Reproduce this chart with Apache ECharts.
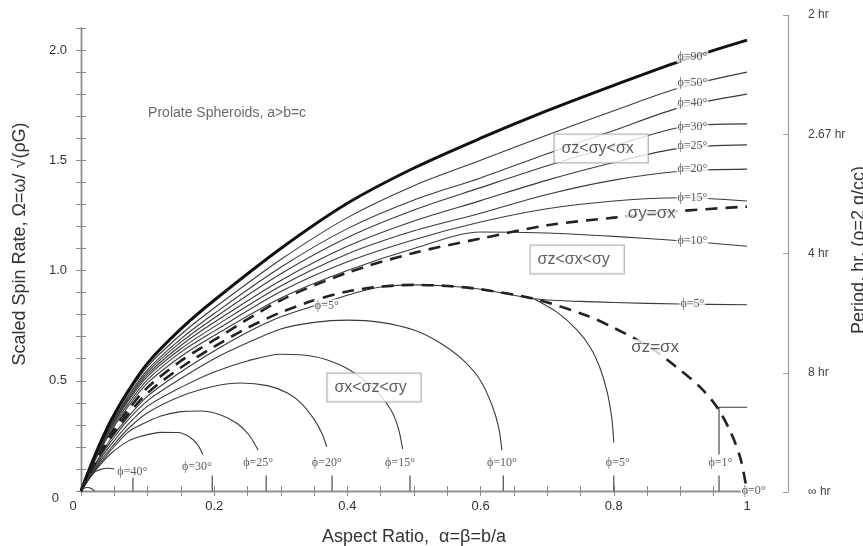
<!DOCTYPE html>
<html><head><meta charset="utf-8">
<script src="https://cdn.jsdelivr.net/npm/echarts/dist/echarts.min.js"></script>
<style>html,body{margin:0;padding:0;background:#fff;overflow:hidden}#c{width:863px;height:546px}</style>
</head><body><div id="c"></div>
<script>
// ---------- data ----------
const xGrid = [0, 0.01, 0.02, 0.03, 0.045, 0.07, 0.1, 0.15, 0.2, 0.3, 0.4, 0.5, 0.6, 0.7, 0.8, 0.9, 1.0];
const upperPhi90 = [0, 0.08, 0.155, 0.225, 0.32, 0.45, 0.58, 0.735, 0.865, 1.10, 1.305, 1.465, 1.60, 1.725, 1.84, 1.95, 2.045];
const upperPhi50 = [0, 0.078, 0.151, 0.219, 0.312, 0.438, 0.565, 0.71, 0.83, 1.05, 1.24, 1.385, 1.50, 1.615, 1.725, 1.83, 1.90];
const upperPhi40 = [0, 0.076, 0.147, 0.213, 0.303, 0.427, 0.55, 0.69, 0.805, 1.015, 1.19, 1.32, 1.42, 1.53, 1.635, 1.74, 1.80];
const upperPhi30 = [0, 0.074, 0.144, 0.209, 0.298, 0.419, 0.54, 0.675, 0.785, 0.985, 1.15, 1.275, 1.376, 1.475, 1.565, 1.65, 1.665];
const upperPhi25 = [0, 0.073, 0.142, 0.206, 0.292, 0.411, 0.53, 0.66, 0.765, 0.955, 1.11, 1.225, 1.317, 1.41, 1.49, 1.555, 1.57];
const upperPhi20 = [0, 0.072, 0.139, 0.202, 0.287, 0.404, 0.52, 0.645, 0.745, 0.93, 1.075, 1.18, 1.26, 1.345, 1.41, 1.45, 1.46];
const upperPhi15 = [0, 0.07, 0.135, 0.196, 0.279, 0.392, 0.505, 0.63, 0.725, 0.905, 1.04, 1.14, 1.22, 1.28, 1.315, 1.33, 1.315];
const upperPhi10 = [0, 0.068, 0.131, 0.19, 0.27, 0.38, 0.49, 0.61, 0.705, 0.875, 1.00, 1.10, 1.175, 1.17, 1.155, 1.135, 1.11];
const sigmaYeqX  = [0, 0.065, 0.126, 0.182, 0.259, 0.365, 0.47, 0.59, 0.685, 0.865, 0.99, 1.08, 1.145, 1.205, 1.24, 1.27, 1.29];

const sigmaZeqX = [[0,0],[0.01,0.061],[0.02,0.119],[0.03,0.173],[0.045,0.245],[0.07,0.345],[0.1,0.445],[0.15,0.56],
  [0.2,0.655],[0.25,0.74],[0.3,0.81],[0.35,0.865],[0.4,0.905],[0.45,0.927],[0.5,0.935],[0.55,0.93],[0.6,0.915],
  [0.68,0.872],[0.76,0.795],[0.8,0.74],[0.85,0.66],[0.895,0.56],[0.93,0.47],[0.955,0.38],[0.975,0.27],[0.99,0.15],[1.0,0.0]];
const upperPhi5 = [[0,0],[0.01,0.059],[0.02,0.115],[0.03,0.167],[0.045,0.237],[0.07,0.333],[0.1,0.43],[0.15,0.54],
  [0.2,0.635],[0.25,0.72],[0.3,0.79],[0.35,0.84],[0.414,0.9],[0.45,0.925],[0.5,0.935],[0.55,0.93],[0.6,0.915],
  [0.68,0.872],[0.75,0.86],[0.8,0.855],[0.9,0.848],[1.0,0.845]];
const lowerPhi5  = [[0.68,0.872],[0.715,0.81],[0.745,0.73],[0.765,0.65],[0.779,0.56],[0.79,0.45],[0.797,0.33],[0.80,0.22]];
const lowerPhi10 = [[0,0],[0.01,0.056],[0.02,0.11],[0.03,0.16],[0.045,0.225],[0.07,0.32],[0.1,0.41],[0.15,0.51],[0.2,0.6],
  [0.25,0.672],[0.3,0.735],[0.35,0.765],[0.4,0.775],[0.45,0.765],[0.5,0.73],[0.54,0.67],[0.575,0.59],[0.6,0.5],
  [0.617,0.39],[0.627,0.29],[0.632,0.185]];
const lowerPhi15 = [[0,0],[0.01,0.053],[0.02,0.10],[0.03,0.15],[0.045,0.21],[0.07,0.30],[0.1,0.385],[0.15,0.47],[0.2,0.54],
  [0.25,0.59],[0.3,0.62],[0.35,0.61],[0.39,0.57],[0.42,0.515],[0.445,0.45],[0.465,0.37],[0.476,0.29],[0.483,0.19]];
const lowerPhi20 = [[0,0],[0.01,0.05],[0.02,0.095],[0.03,0.14],[0.045,0.195],[0.07,0.28],[0.1,0.355],[0.15,0.43],[0.2,0.475],
  [0.24,0.49],[0.28,0.478],[0.31,0.445],[0.33,0.4],[0.35,0.325],[0.362,0.26],[0.369,0.2]];
const lowerPhi25 = [[0,0],[0.01,0.047],[0.02,0.09],[0.03,0.13],[0.045,0.185],[0.07,0.265],[0.09,0.3],[0.12,0.34],[0.15,0.36],
  [0.18,0.363],[0.21,0.345],[0.235,0.305],[0.252,0.255],[0.266,0.185]];
const lowerPhi30 = [[0,0],[0.01,0.045],[0.02,0.086],[0.03,0.123],[0.045,0.17],[0.07,0.225],[0.09,0.248],[0.12,0.266],
  [0.145,0.265],[0.163,0.245],[0.175,0.21],[0.183,0.165]];
const lowerPhi40 = [[0,0],[0.005,0.03],[0.01,0.055],[0.02,0.085],[0.03,0.098],[0.04,0.103],[0.05,0.1]];
const lowerPhi50 = [[0,0],[0.004,0.012],[0.01,0.016],[0.016,0.01],[0.02,0]];
const phi1Line = [[0.958,0.165],[0.958,0.38],[1.0,0.38]];
const zeroSpinAspect = [0.078, 0.197, 0.278, 0.377, 0.494, 0.634, 0.80, 0.958];

const upperLabels = ['ϕ=90°','ϕ=50°','ϕ=40°','ϕ=30°','ϕ=25°','ϕ=20°','ϕ=15°','ϕ=10°','ϕ=5°'];
const upperLabelOmega = [1.97, 1.85, 1.76, 1.65, 1.566, 1.46, 1.33, 1.135, 0.847];
const upperLabelX = 0.918;
const lowerLabels = ['ϕ=40°','ϕ=30°','ϕ=25°','ϕ=20°','ϕ=15°','ϕ=10°','ϕ=5°','ϕ=1°','ϕ=0°'];
const lowerLabelX = [0.077, 0.174, 0.266, 0.369, 0.479, 0.632, 0.806, 0.96, 1.01];
const lowerLabelOmega = [0.086, 0.108, 0.127, 0.127, 0.127, 0.127, 0.127, 0.127, 0.0];
const innerPhi5Label = ['ϕ=5°', 0.369, 0.842];
const regionLabels = ['σz<σy<σx', 'σz<σx<σy', 'σx<σz<σy'];
const regionX = [0.781, 0.745, 0.44];
const regionOmega = [1.554, 1.05, 0.47];
const boundaryLabels = ['σy=σx', 'σz=σx'];
const boundaryX = [0.857, 0.862];
const boundaryOmega = [1.26, 0.65];
const noteText = ['Prolate Spheroids, a>b=c', 0.1, 1.715];

const periodLabels = ['∞ hr', '8 hr', '4 hr', '2.67 hr', '2 hr'];
const periodStep = 0.53825;   // Ω spacing of the period ticks

// ---------- chart ----------
const SANS = 'Liberation Sans, Arial, Helvetica, sans-serif';
const SERIF = 'Liberation Serif, DejaVu Serif, Times New Roman, serif';
const thin = {color:'#3a3a3a', width:1.1};
const dashed = {color:'#222', width:2.6, type:[12,8]};
function line(data, style, smooth){
  return {type:'line', data:data, xAxisIndex:0, yAxisIndex:0, symbol:'none', showSymbol:false,
    smooth: smooth===undefined ? 0.3 : smooth, lineStyle:style, silent:true, z:2, clip:false};
}
const zip = arr => xGrid.map((x,i)=>[x, arr[i]]);
const series = [];
[upperPhi50, upperPhi40, upperPhi30, upperPhi25, upperPhi20, upperPhi15, upperPhi10].forEach(a=>series.push(line(zip(a), thin)));
series.push(line(upperPhi5, thin));
series.push(line(lowerPhi5, thin));
[lowerPhi10, lowerPhi15, lowerPhi20, lowerPhi25, lowerPhi30, lowerPhi40, lowerPhi50].forEach(a=>series.push(line(a, thin)));
series.push(line(phi1Line, thin, false));
zeroSpinAspect.forEach(a=>series.push(line([[a,0],[a,0.07]], thin, false)));
series.push(line(zip(upperPhi90), {color:'#111', width:3}));
series.push(line(zip(sigmaYeqX), dashed));
series.push(line(sigmaZeqX, dashed));

function labelSeries(items, labelCfg){
  return {type:'scatter', xAxisIndex:0, yAxisIndex:0, symbolSize:1, clip:false, silent:true, z:10,
    itemStyle:{color:'rgba(0,0,0,0)'},
    data: items.map(it=>({name:it[0], value:[it[1], it[2]]})),
    label: Object.assign({show:true, position:'inside', formatter:'{b}'}, labelCfg)};
}
series.push(labelSeries(upperLabels.map((t,i)=>[t, upperLabelX, upperLabelOmega[i]]).concat([innerPhi5Label]),
  {fontFamily:SERIF, fontSize:12, color:'#333', backgroundColor:'#fff', padding:[0,1]}));
series.push(labelSeries(lowerLabels.map((t,i)=>[t, lowerLabelX[i], lowerLabelOmega[i]]),
  {fontFamily:SERIF, fontSize:12, color:'#333', backgroundColor:'#fff', padding:[0,1]}));
series.push(labelSeries(regionLabels.map((t,i)=>[t, regionX[i], regionOmega[i]]),
  {fontFamily:SANS, fontSize:16, color:'#333', backgroundColor:'#fff', borderColor:'#999', borderWidth:1, padding:[6,14,6,7]}));
series.push(labelSeries(boundaryLabels.map((t,i)=>[t, boundaryX[i], boundaryOmega[i]]),
  {fontFamily:SANS, fontSize:17, color:'#333', backgroundColor:'#fff', padding:[0,2]}));
series.push(labelSeries([noteText], {fontFamily:SANS, fontSize:14, color:'#444', position:'right', distance:0}));

const frameLine = {lineStyle:{color:'#8a8a8a', width:1.4}};
const tick = {inside:true, length:5, lineStyle:{color:'#8a8a8a', width:1}};
const isMult = (v, s) => Math.abs(v/s - Math.round(v/s)) < 1e-6;
const fmtX = v => (Math.abs(v) < 1e-9 ? '{z|0}' : (Math.abs(v-1) < 1e-9 ? '1' : v.toFixed(1)));

const option = {
  animation:false,
  backgroundColor:'#fff',
  grid:[{left:81, right:116, top:28, bottom:55, outerBoundsMode:'none'},
        {left:788, right:65, top:15, bottom:54, outerBoundsMode:'none'}],
  xAxis:[
    {gridIndex:0, type:'value', min:0, max:1, interval:0.05, position:'bottom',
      axisLine:frameLine, axisTick:tick, splitLine:{show:false},
      axisLabel:{color:'#333', fontSize:13, fontFamily:SANS, margin:9,
        formatter:v=> isMult(v,0.2) ? fmtX(v) : '',
        rich:{z:{fontSize:13, fontFamily:SANS, color:'#333', padding:[0,16,0,0]}}},
      name:'Aspect Ratio,  α=β=b/a', nameLocation:'middle', nameGap:37,
      nameTextStyle:{fontFamily:SANS, fontSize:18, color:'#333'}},
    {gridIndex:0, type:'value', min:0, max:1, interval:0.05, position:'top',
      axisLine:frameLine, axisTick:tick, splitLine:{show:false}, axisLabel:{show:false}},
    {gridIndex:1, type:'value', show:false}
  ],
  yAxis:[
    {gridIndex:0, type:'value', min:0, max:2.1, interval:0.1, position:'left',
      axisLine:Object.assign({show:true}, frameLine), axisTick:tick, splitLine:{show:false},
      axisLabel:{color:'#333', fontSize:13, fontFamily:SANS, margin:14,
        formatter:v=> (isMult(v,0.5) && v < 2.05) ? (Math.abs(v) < 1e-9 ? '{z|0}' : v.toFixed(1)) : '',
        rich:{z:{fontSize:13, fontFamily:SANS, color:'#333', padding:[14,8,0,0]}}}},
    {gridIndex:0, type:'value', min:0, max:2.1, interval:0.1, position:'right',
      axisLine:Object.assign({show:true}, frameLine), axisTick:tick, splitLine:{show:false}, axisLabel:{show:false}},
    {gridIndex:1, type:'value', min:0, max:periodStep*4, interval:periodStep, position:'right',
      axisLine:{show:true, lineStyle:{color:'#a0a0a0', width:1.2}},
      axisTick:{show:true, inside:true, length:5, lineStyle:{color:'#a0a0a0'}},
      splitLine:{show:false},
      axisLabel:{color:'#444', fontSize:12, fontFamily:SANS, margin:10,
        formatter:v=> periodLabels[Math.round(v/periodStep)] || ''}}
  ],
  graphic:[
    {type:'text', x:20, y:244, rotation:Math.PI/2, silent:true,
      style:{text:'Scaled Spin Rate, Ω=ω/ √(ρG)', font:'18px '+SANS, fill:'#333',
        align:'center', verticalAlign:'middle', textAlign:'center', textVerticalAlign:'middle'}},
    {type:'text', x:859, y:250, rotation:Math.PI/2, silent:true,
      style:{text:'Period, hr, (ρ=2 g/cc)', font:'18px '+SANS, fill:'#333',
        align:'center', verticalAlign:'middle', textAlign:'center', textVerticalAlign:'middle'}}
  ],
  series:series
};
const chart = echarts.init(document.getElementById('c'), null, {renderer:'canvas'});
chart.setOption(option);
</script></body></html>
